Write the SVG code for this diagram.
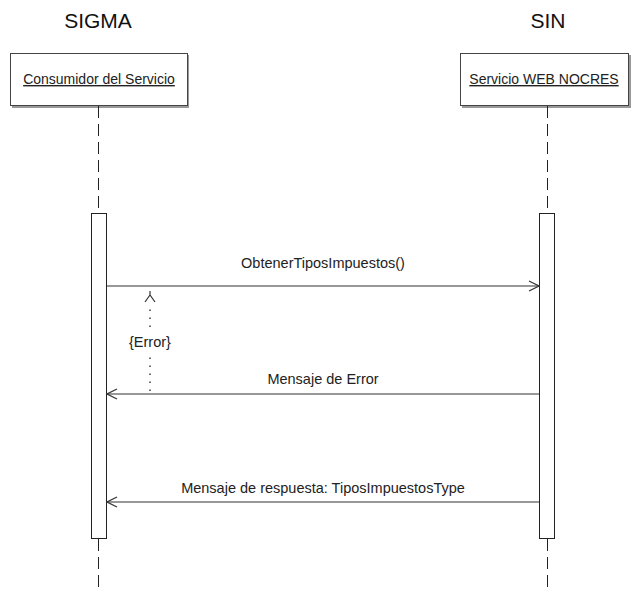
<svg xmlns="http://www.w3.org/2000/svg" width="631" height="592" viewBox="0 0 631 592">
  <style>
    .title { font-family: "Liberation Sans", Arial, sans-serif; font-size: 21px; fill: #111; text-anchor: middle; }
    .name { font-family: "Liberation Sans", Arial, sans-serif; font-size: 14px; fill: #222; text-anchor: middle; text-decoration: underline; }
    .label { font-family: "Liberation Sans", Arial, sans-serif; font-size: 14.5px; fill: #222; text-anchor: middle; }
    .box { fill: #fff; stroke: #444; stroke-width: 1; }
    .shadow { fill: #999; }
    .life { stroke: #222; stroke-width: 1; stroke-dasharray: 12 6; fill: none; }
    .bar { fill: #fff; stroke: #222; stroke-width: 1; }
    .msg { stroke: #333; stroke-width: 1.2; fill: none; }
    .dot { stroke: #333; stroke-width: 1.4; stroke-dasharray: 1.4 6.6; fill: none; }
  </style>
  <defs>
    <marker id="open" markerWidth="12" markerHeight="12" refX="11" refY="6" orient="auto" markerUnits="userSpaceOnUse">
      <path d="M1,1 L11,6 L1,11" fill="none" stroke="#333" stroke-width="1.2"/>
    </marker>
  </defs>
  <rect width="631" height="592" fill="#fff"/>

  <text class="title" x="98" y="28">SIGMA</text>
  <text class="title" x="548" y="28">SIN</text>

  <g id="consumidor">
    <rect class="shadow" x="12" y="55" width="177" height="53"/>
    <rect class="box" x="10.5" y="53.5" width="177" height="52"/>
    <text class="name" x="99" y="84">Consumidor del Servicio</text>
    <line class="life" x1="98.5" y1="106" x2="98.5" y2="213"/>
    <rect class="bar" x="91.5" y="213.5" width="15" height="325"/>
    <line class="life" x1="98.5" y1="539" x2="98.5" y2="592"/>
  </g>

  <g id="servicio">
    <rect class="shadow" x="462" y="55" width="169" height="53"/>
    <rect class="box" x="460.5" y="53.5" width="168" height="52"/>
    <text class="name" x="544" y="84">Servicio WEB NOCRES</text>
    <line class="life" x1="547.5" y1="106" x2="547.5" y2="213"/>
    <rect class="bar" x="539.5" y="213.5" width="15" height="325"/>
    <line class="life" x1="547.5" y1="539" x2="547.5" y2="592"/>
  </g>

  <g id="connectors">
    <line class="msg" x1="107" y1="286" x2="539" y2="286" marker-end="url(#open)"/>
    <text class="label" x="323" y="268">ObtenerTiposImpuestos()</text>

    <line class="dot" x1="150" y1="391" x2="150" y2="305"/>
    <path d="M150,291 L150,295 M145,302 L150,295 L155,302" fill="none" stroke="#333" stroke-width="1.2"/>
    <rect x="126" y="331" width="49" height="20" fill="#fff"/>
    <text class="label" x="150" y="347">{Error}</text>

    <line class="msg" x1="539" y1="394" x2="107" y2="394" marker-end="url(#open)"/>
    <text class="label" x="323" y="384">Mensaje de Error</text>

    <line class="msg" x1="539" y1="502" x2="107" y2="502" marker-end="url(#open)"/>
    <text class="label" x="323" y="493">Mensaje de respuesta: TiposImpuestosType</text>
  </g>
</svg>
